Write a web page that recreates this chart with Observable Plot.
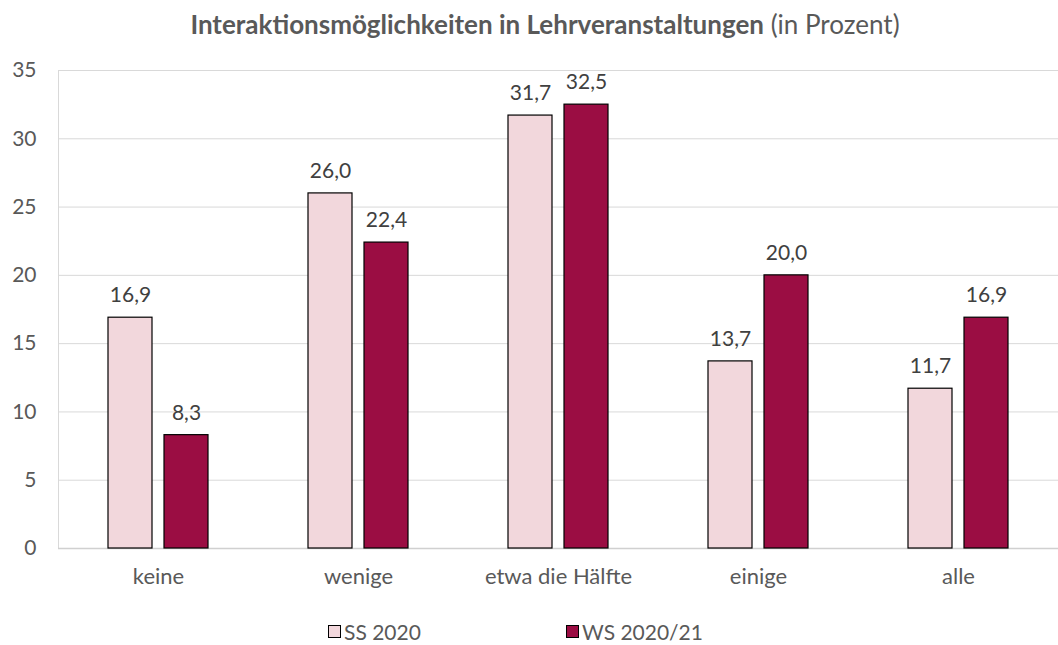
<!DOCTYPE html>
<html><head><meta charset="utf-8">
<script src="https://cdn.jsdelivr.net/npm/d3@7"></script>
<script src="https://cdn.jsdelivr.net/npm/@observablehq/plot@0.6"></script>
<style>
body{margin:0;background:#fff;font-family:Lato,"Noto Sans",sans-serif;width:1058px;height:645px;overflow:hidden;position:relative}
#title{position:absolute;top:8px;left:0;width:1090px;text-align:center;font-size:26px;color:#595959;white-space:nowrap}
#chart{position:absolute;top:50px;left:0}
#legend{position:absolute;top:619px;left:0;width:1058px;font-size:21px;color:#595959}
.item{position:absolute;display:flex;align-items:center;gap:3px}
.sw{width:11px;height:11px;border:1px solid #000;display:inline-block}
</style></head><body>
<div id="title"><b>Interaktionsmöglichkeiten in Lehrveranstaltungen</b> (in Prozent)</div>
<div id="chart"></div>
<div id="legend"></div>
<script>
const categories = ["keine","wenige","etwa die Hälfte","einige","alle"];
const series = ["SS 2020","WS 2020/21"];
const ss2020 = [16.9, 26.0, 31.7, 13.7, 11.7];
const ws2021 = [8.3, 22.4, 32.5, 20.0, 16.9];
const colors = ["#F2D7DC","#9B0D43"];
const yTicks = [0,5,10,15,20,25,30,35];

const data = [];
categories.forEach((c,i)=>{
  data.push({cat:c, ser:series[0], v:ss2020[i]});
  data.push({cat:c, ser:series[1], v:ws2021[i]});
});
const fmt = v => v.toFixed(1).replace(".", ",");

const plot = Plot.plot({
  width:1058, height:550,
  marginTop:20, marginBottom:52, marginLeft:57, marginRight:0,
  style:{fontFamily:"Lato, 'Noto Sans', sans-serif", fontSize:"21px", color:"#595959", background:"#fff"},
  fx:{domain:categories, padding:0, label:null},
  x:{domain:series, paddingInner:0.21, paddingOuter:0.86, axis:null},
  y:{domain:[0,35], ticks:yTicks, label:null},
  color:{domain:series, range:colors},
  marks:[
    Plot.gridY(yTicks,{stroke:"#d9d9d9", strokeOpacity:1}),
    Plot.frame({anchor:"left", stroke:"#d9d9d9", facetAnchor:"left"}),
    Plot.ruleY([0],{stroke:"#d0d0d0", strokeWidth:1.3}),
    Plot.axisY(yTicks,{tickSize:0, tickPadding:22, fontSize:21, fill:"#595959", label:null, facetAnchor:"left"}),
    Plot.axisFx({anchor:"bottom", tickSize:0, tickPadding:20, fontSize:22, fill:"#595959", label:null}),
    Plot.barY(data,{fx:"cat", x:"ser", y:"v", fill:"ser", stroke:"#000", strokeWidth:1.2}),
    Plot.text(data,{fx:"cat", x:"ser", y:"v", text:d=>fmt(d.v), dy:-22, fontSize:21, fill:"#404040"})
  ]
});
document.getElementById("chart").appendChild(plot);

const leg = document.getElementById("legend");
const lx = [328, 566];
series.forEach((s,i)=>{
  const it = document.createElement("div");
  it.className="item"; it.style.left=lx[i]+"px";
  it.innerHTML = `<span class="sw" style="background:${colors[i]}"></span><span>${s}</span>`;
  leg.appendChild(it);
});
</script></body></html>
